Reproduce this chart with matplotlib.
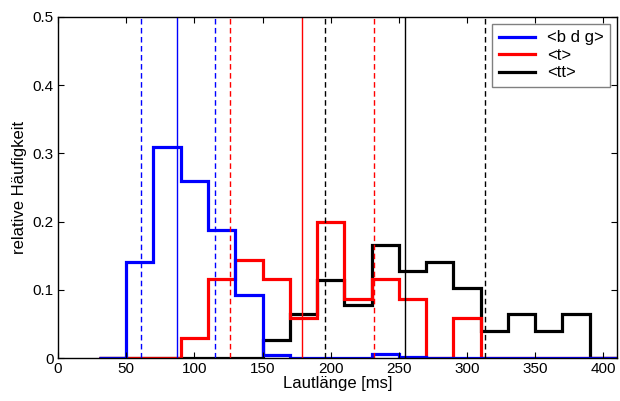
import numpy as np
import matplotlib.pyplot as plt

plt.rcParams['font.family'] = ['Liberation Sans', 'DejaVu Sans']

# bin edges (ms) and relative frequencies
edges = np.arange(30, 411, 20)
bdg = [0, 0.141, 0.309, 0.26, 0.187, 0.093, 0.004, 0, 0, 0, 0.006, 0.002, 0, 0, 0, 0, 0, 0, 0]
t = [0, 0, 0, 0.029, 0.116, 0.144, 0.116, 0.058, 0.2, 0.086, 0.116, 0.086, 0, 0.058, 0, 0, 0, 0, 0]
tt = [0, 0, 0, 0, 0, 0, 0.026, 0.064, 0.115, 0.077, 0.166, 0.128, 0.141, 0.103, 0.039, 0.064, 0.039, 0.064, 0]

# mean and mean +/- sd lines
means = {'bdg': 87.6, 't': 179, 'tt': 254.8}
lower = {'bdg': 60.9, 't': 126.2, 'tt': 195.6}
upper = {'bdg': 115.5, 't': 232, 'tt': 313.2}
colors = {'bdg': 'blue', 't': 'red', 'tt': 'black'}
labels = {'bdg': '<b d g>', 't': '<t>', 'tt': '<tt>'}
values = {'bdg': bdg, 't': t, 'tt': tt}

fig = plt.figure(figsize=(6.2, 4.01), dpi=100)
ax = fig.add_axes([58/620, 43/401, 559/620, 341/401])

for k in ['tt', 't', 'bdg']:
    ax.stairs(values[k], edges, baseline=None, color=colors[k], lw=2.3, label=labels[k])

for k in ['bdg', 't', 'tt']:
    ax.axvline(means[k], color=colors[k], lw=1)
    ax.axvline(lower[k], color=colors[k], lw=1, ls=(0, (4, 2.5)))
    ax.axvline(upper[k], color=colors[k], lw=1, ls=(0, (4, 2.5)))

ax.set_xlim(0, 410)
ax.set_ylim(0, 0.5)
ax.set_xticks(range(0, 401, 50))
ax.set_yticks([0, 0.1, 0.2, 0.3, 0.4, 0.5])
ax.set_yticklabels(['0', '0.1', '0.2', '0.3', '0.4', '0.5'])
ax.tick_params(direction='in', top=True, right=True, labelsize=11, length=4, pad=3)
for s in ax.spines.values():
    s.set_linewidth(1)
ax.set_xlabel('Lautlänge [ms]', fontsize=12, labelpad=0)
ax.set_ylabel('relative Häufigkeit', fontsize=12, labelpad=4)

h, l = ax.get_legend_handles_labels()
order = [l.index('<b d g>'), l.index('<t>'), l.index('<tt>')]
leg = ax.legend([h[i] for i in order], [l[i] for i in order], loc='upper right',
                fontsize=12, fancybox=False, framealpha=1, edgecolor='gray',
                handlelength=2.2, handletextpad=0.7, borderaxespad=0.4,
                labelspacing=0.15, borderpad=0.4)
for line in leg.get_lines():
    line.set_linewidth(2.3)

fig.savefig('out.png', dpi=100)
